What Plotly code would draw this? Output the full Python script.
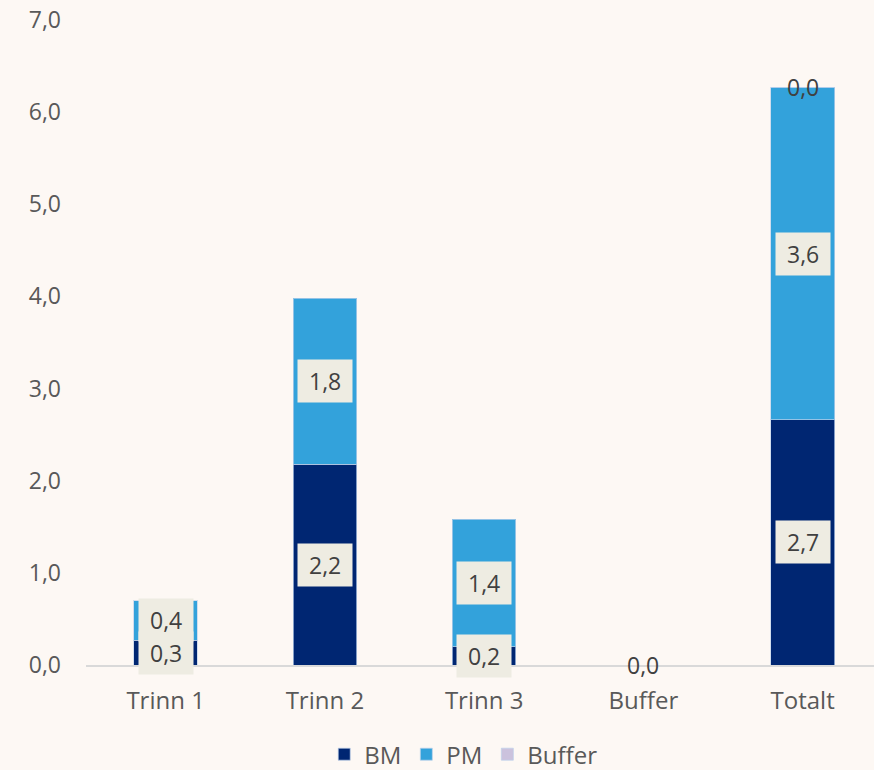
import plotly.graph_objects as go

categories = ["Trinn 1", "Trinn 2", "Trinn 3", "Buffer", "Totalt"]
bm_values = [0.27, 2.18, 0.2, None, 2.66]
pm_values = [0.43, 1.80, 1.38, None, 3.61]
buffer_values = [None, None, None, 0.0, 0.0]

BM_COLOR = "#002672"
PM_COLOR = "#33A2DB"
BUF_COLOR = "#CBC2DD"
BG = "#FDF8F4"
TEXT = "#404040"
FONT = "Open Sans"


def fmt(v):
    return f"{v:.1f}".replace(".", ",")


fig = go.Figure()
for name, vals, color in [("BM", bm_values, BM_COLOR), ("PM", pm_values, PM_COLOR),
                          ("Buffer", buffer_values, BUF_COLOR)]:
    fig.add_trace(go.Bar(
        x=categories, y=vals, name=name, width=0.4,
        marker=dict(color=color, line=dict(width=1, color="rgba(190,210,235,0.7)")),
    ))

# data labels centred in each segment (boxed for BM/PM, plain for Buffer)
for i, cat in enumerate(categories):
    base = 0.0
    for vals, boxed in [(bm_values, True), (pm_values, True), (buffer_values, False)]:
        v = vals[i]
        if v is None:
            continue
        fig.add_annotation(
            x=cat, y=base + v / 2,
            text=f"&nbsp;{fmt(v)}&nbsp;" if boxed else fmt(v),
            showarrow=False,
            font=dict(family=FONT, size=23, color=TEXT),
            bgcolor="#EEECE2" if boxed else "rgba(0,0,0,0)",
            borderpad=5,
        )
        base += v

fig.update_layout(
    barmode="stack",
    width=874, height=770,
    paper_bgcolor=BG, plot_bgcolor=BG,
    margin=dict(l=86, r=0, t=20, b=105),
    font=dict(family=FONT, size=24, color="#595959"),
    showlegend=True,
    legend=dict(orientation="h", x=0.53, xref="container", xanchor="center",
                y=0.02, yref="container", yanchor="middle",
                font=dict(size=24, color="#595959"), itemwidth=30, traceorder="normal"),
    xaxis=dict(range=[-0.5, 4.448], showgrid=False, showline=True, linecolor="#D9D9D9",
               linewidth=2, ticks="", ticklabelstandoff=13, automargin=False,
               tickfont=dict(size=24, color="#595959")),
    yaxis=dict(range=[0, 7], dtick=1, tickformat=".1f", showgrid=False, zeroline=False,
               ticklabelstandoff=24, automargin=False,
               tickfont=dict(size=23, color="#595959")),
    separators=", ",
)

fig.write_html("out.html", config={"displayModeBar": False},
               post_script="document.body.style.margin='0px';"
               "document.body.style.background='" + BG + "';")
